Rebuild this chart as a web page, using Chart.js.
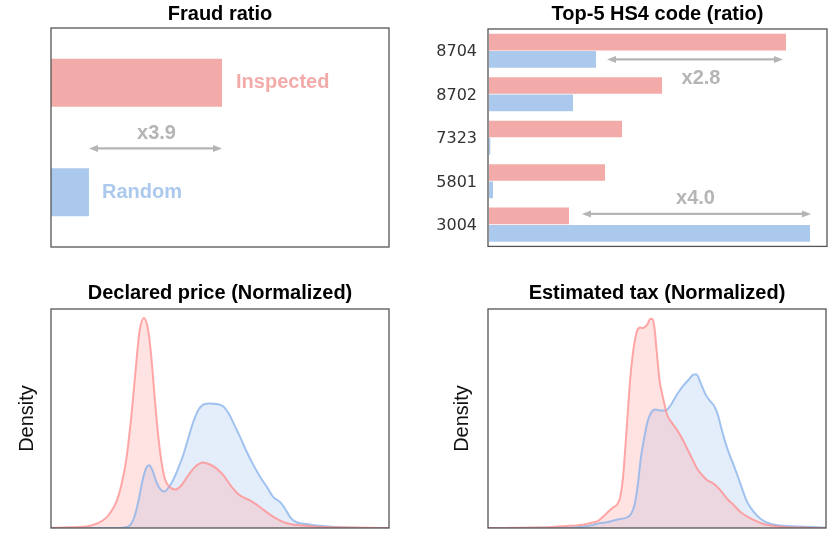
<!DOCTYPE html>
<html>
<head>
<meta charset="utf-8">
<script src="https://cdn.jsdelivr.net/npm/chart.js@4/dist/chart.umd.min.js"></script>
<style>
  html, body { margin: 0; padding: 0; background: #fff; }
  #wrap { position: relative; width: 830px; height: 534px; }
  .panel { position: absolute; width: 415px; height: 267px; }
</style>
</head>
<body>
<div id="wrap">
  <div class="panel" style="left:0;top:0"><canvas id="c-fraud" width="415" height="267"></canvas></div>
  <div class="panel" style="left:415px;top:0"><canvas id="c-hs4" width="415" height="267"></canvas></div>
  <div class="panel" style="left:0;top:267px"><canvas id="c-price" width="415" height="267"></canvas></div>
  <div class="panel" style="left:415px;top:267px"><canvas id="c-tax" width="415" height="267"></canvas></div>
</div>
<script>
// ─── Data ───

const fraudLabels = ['Inspected', 'Random'];
const fraudValues = [39, 10];            // fraud ratio (%)

const hs4Codes = ['8704', '8702', '7323', '5801', '3004'];
const hs4Inspected = [0.297, 0.173, 0.133, 0.116, 0.080];
const hs4Random = [0.107, 0.084, 0.0013, 0.004, 0.321];

// declared price (normalized), density
const priceInspX = [0, 5.4, 9.4, 12.4, 15.3, 17.3, 19.3, 20.8, 22.3, 23.8, 25.0, 26.2, 27.5, 28.7, 29.7, 30.7, 31.7, 32.7, 33.7, 35.1, 36.9, 38.6, 40.6, 42.6, 44.9, 47.0, 49.0, 51.0, 53.5, 55.9, 58.9, 61.9, 64.9, 67.8, 70.8, 74.8, 78.7, 84.7, 93.6, 100];
const priceInspY = [0, 0.3, 0.6, 1.4, 3.4, 6.4, 11.8, 19.5, 31.7, 51.7, 71.6, 90.0, 95.9, 90.8, 77.8, 59.4, 42.5, 30.2, 22.5, 18.7, 17.6, 19.5, 24.1, 27.9, 29.9, 29.0, 27.1, 24.1, 18.7, 14.9, 12.6, 9.5, 6.0, 3.4, 1.8, 1.1, 0.6, 0.3, 0.15, 0];
const priceRandX = [0, 19.3, 21.3, 23.3, 24.8, 26.0, 27.2, 28.2, 29.0, 30.0, 31.2, 32.4, 33.5, 34.7, 36.1, 37.6, 39.1, 40.6, 42.1, 43.6, 45.0, 47.0, 49.0, 51.0, 52.5, 54.0, 55.9, 57.9, 59.9, 61.9, 63.9, 65.8, 67.8, 69.3, 70.8, 72.8, 75.7, 78.7, 83.7, 88.6, 100];
const priceRandY = [0, 0, 0.15, 1.1, 5.7, 13.3, 22.5, 27.5, 28.7, 26.4, 21.0, 17.6, 16.7, 18.3, 21.8, 27.1, 33.2, 40.9, 48.5, 53.9, 56.3, 56.9, 56.6, 55.5, 52.5, 47.9, 41.7, 34.8, 28.7, 23.3, 18.7, 14.1, 11.8, 8.7, 4.9, 2.5, 1.8, 1.1, 0.5, 0.15, 0];

// estimated tax (normalized), density
const taxInspX = [0, 14.4, 19.3, 23.3, 26.2, 29.2, 31.2, 32.7, 34.2, 35.6, 37.1, 38.3, 39.1, 39.9, 40.6, 41.3, 42.1, 43.1, 44.1, 45.0, 45.8, 46.5, 47.2, 48.0, 48.7, 49.3, 50.0, 50.8, 51.8, 53.0, 54.5, 55.9, 57.4, 58.9, 60.4, 61.9, 63.4, 64.9, 66.8, 68.8, 70.8, 72.8, 74.8, 77.7, 80.7, 83.7, 88.6, 100];
const taxInspY = [0, 0.2, 0.5, 0.9, 1.2, 1.8, 2.6, 3.4, 5.4, 7.5, 9.5, 11.0, 14.1, 22.5, 36.3, 51.7, 68.6, 82.4, 90.0, 91.6, 91.3, 91.9, 93.1, 95.6, 95.4, 90.8, 79.3, 67.0, 59.4, 51.7, 47.9, 44.8, 41.0, 36.3, 31.7, 27.1, 24.1, 21.8, 20.2, 17.2, 13.3, 10.3, 7.2, 4.4, 2.3, 1.1, 0.3, 0];
const taxRandX = [0, 24.3, 29.2, 31.2, 33.2, 35.1, 37.1, 39.1, 41.1, 42.3, 43.3, 44.3, 45.2, 46.2, 47.2, 48.2, 49.5, 51.0, 52.5, 53.8, 55.0, 56.4, 57.9, 59.4, 60.9, 61.7, 62.9, 64.4, 65.8, 67.0, 68.0, 69.3, 70.8, 72.3, 73.8, 75.2, 76.7, 78.7, 80.7, 83.7, 88.6, 93.6, 100];
const taxRandY = [0, 0.15, 0.8, 1.5, 2.3, 2.6, 3.4, 4.1, 4.9, 6.4, 10.3, 19.5, 31.7, 41.0, 48.6, 52.5, 54.1, 53.6, 53.6, 55.5, 58.6, 62.1, 65.2, 67.8, 70.1, 70.1, 66.3, 60.9, 57.8, 55.5, 51.7, 44.0, 36.3, 30.2, 24.1, 17.9, 11.8, 7.2, 4.1, 1.8, 0.9, 0.6, 0.15];

// ─── Styles ───

const FONT = "'Liberation Sans', Arial, Helvetica, sans-serif";
const TICK_FONT = "'DejaVu Sans', sans-serif";
const RED_BAR = '#f3aba9';
const BLUE_BAR = '#abc9ec';
const RED_LINE = 'rgba(255,140,140,0.75)';
const RED_FILL = 'rgba(255,150,150,0.28)';
const BLUE_LINE = 'rgba(140,180,235,0.8)';
const BLUE_FILL = 'rgba(150,190,235,0.26)';
const ANNOT = '#b5b5b5';

const framePlugin = {
  id: 'frame',
  afterDraw(chart) {
    const { ctx, chartArea: a } = chart;
    ctx.save();
    ctx.strokeStyle = '#555';
    ctx.lineWidth = 1.3;
    ctx.strokeRect(a.left, a.top, a.right - a.left, a.bottom - a.top);
    ctx.restore();
  }
};

function drawArrow(ctx, x1, x2, y) {
  const head = 9, half = 3.5;
  ctx.save();
  ctx.strokeStyle = ANNOT;
  ctx.fillStyle = ANNOT;
  ctx.lineWidth = 2.2;
  ctx.beginPath();
  ctx.moveTo(x1 + head - 1, y);
  ctx.lineTo(x2 - head + 1, y);
  ctx.stroke();
  ctx.beginPath();
  ctx.moveTo(x1, y); ctx.lineTo(x1 + head, y - half); ctx.lineTo(x1 + head, y + half); ctx.closePath();
  ctx.fill();
  ctx.beginPath();
  ctx.moveTo(x2, y); ctx.lineTo(x2 - head, y - half); ctx.lineTo(x2 - head, y + half); ctx.closePath();
  ctx.fill();
  ctx.restore();
}

function drawText(ctx, text, x, y, color, align) {
  ctx.save();
  ctx.font = `bold 20px ${FONT}`;
  ctx.fillStyle = color;
  ctx.textAlign = align || 'center';
  ctx.textBaseline = 'middle';
  ctx.fillText(text, x, y);
  ctx.restore();
}

function titleOpts(text, top, bottom) {
  return {
    display: true, text, color: '#000', fullSize: false,
    font: { family: FONT, size: 20, weight: 'bold' },
    padding: { top, bottom }
  };
}

// ─── Fraud ratio ───

new Chart(document.getElementById('c-fraud'), {
  type: 'bar',
  data: {
    labels: fraudLabels,
    datasets: [{ data: fraudValues, backgroundColor: [RED_BAR, BLUE_BAR], barPercentage: 0.88, categoryPercentage: 0.5 }]
  },
  options: {
    indexAxis: 'y', responsive: false, animation: false,
    layout: { padding: { left: 51, right: 26, top: 0, bottom: 20 } },
    scales: {
      x: { display: false, min: 1.72, max: 75.4 },
      y: { display: false }
    },
    plugins: { legend: { display: false }, tooltip: { enabled: false }, title: titleOpts('Fraud ratio', 2, 2) }
  },
  plugins: [framePlugin, {
    id: 'fraudNotes',
    afterDatasetsDraw(chart) {
      const { ctx, scales: { x, y } } = chart;
      const xi = x.getPixelForValue(fraudValues[0]);
      const xr = x.getPixelForValue(fraudValues[1]);
      drawText(ctx, fraudLabels[0], xi + 14, y.getPixelForValue(0), RED_BAR, 'left');
      drawText(ctx, fraudLabels[1], xr + 13, y.getPixelForValue(1), BLUE_BAR, 'left');
      drawArrow(ctx, xr, xi, y.getPixelForValue(0.6));
      drawText(ctx, 'x' + (fraudValues[0] / fraudValues[1]).toFixed(1), (xi + xr) / 2 + 1, y.getPixelForValue(0.46), ANNOT);
    }
  }]
});

// ─── Top-5 HS4 ───

new Chart(document.getElementById('c-hs4'), {
  type: 'bar',
  data: {
    labels: hs4Codes,
    datasets: [
      { label: 'Inspected', data: hs4Inspected, backgroundColor: RED_BAR, barPercentage: 0.96, categoryPercentage: 0.8 },
      { label: 'Random', data: hs4Random, backgroundColor: BLUE_BAR, barPercentage: 0.96, categoryPercentage: 0.8 }
    ]
  },
  options: {
    indexAxis: 'y', responsive: false, animation: false,
    layout: { padding: { left: 0, right: 3, top: 0, bottom: 20 } },
    scales: {
      x: { display: false, min: -0.001, max: 0.338 },
      y: {
        grid: { display: false, drawTicks: false },
        border: { display: false },
        ticks: { color: '#333', padding: 11, labelOffset: 1.5, font: { family: TICK_FONT, size: 16 } },
        afterFit(scale) { scale.width = 73; }
      }
    },
    plugins: { legend: { display: false }, tooltip: { enabled: false }, title: titleOpts('Top-5 HS4 code (ratio)', 2, 3) }
  },
  plugins: [framePlugin, {
    id: 'hs4Notes',
    afterDatasetsDraw(chart) {
      const { ctx, scales: { x, y } } = chart;
      const red = chart.getDatasetMeta(0).data;
      const blue = chart.getDatasetMeta(1).data;
      const first = 0, last = hs4Codes.length - 1;

      const a1 = red[first].x, b1 = blue[first].x;
      drawArrow(ctx, b1 + 11, a1 - 3, blue[first].y);
      drawText(ctx, 'x' + (hs4Inspected[first] / hs4Random[first]).toFixed(1), (a1 + b1) / 2 + 10, y.getPixelForValue(0.64), ANNOT);

      const a2 = red[last].x, b2 = blue[last].x;
      drawArrow(ctx, a2 + 13, b2 + 1, red[last].y - 2);
      drawText(ctx, 'x' + (hs4Random[last] / hs4Inspected[last]).toFixed(1), (a2 + b2) / 2 + 6, y.getPixelForValue(3.39), ANNOT);
    }
  }]
});

// ─── Density plots ───

function toPoints(xs, ys) {
  return xs.map((x, i) => ({ x, y: ys[i] }));
}

function densityChart(id, title, insp, rand, padLeft, axisWidth, padRight) {
  const line = (pts, border, fill) => ({
    data: pts, borderColor: border, backgroundColor: fill, fill: 'origin',
    borderWidth: 2, pointRadius: 0, cubicInterpolationMode: 'monotone'
  });
  return new Chart(document.getElementById(id), {
    type: 'line',
    data: { datasets: [line(insp, RED_LINE, RED_FILL), line(rand, BLUE_LINE, BLUE_FILL)] },
    options: {
      responsive: false, animation: false,
      layout: { padding: { left: padLeft, right: padRight, top: 0, bottom: 6 } },
      scales: {
        x: { type: 'linear', display: false, min: 0, max: 100 },
        y: {
          min: 0, max: 100,
          grid: { display: false, drawTicks: false },
          border: { display: false },
          ticks: { display: false },
          title: { display: true, text: 'Density', color: '#111', padding: 0, font: { family: FONT, size: 20 } },
          afterFit(scale) { scale.width = axisWidth; }
        }
      },
      plugins: {
        legend: { display: false }, tooltip: { enabled: false },
        filler: { drawTime: 'beforeDatasetsDraw' },
        title: titleOpts(title, 14, 4)
      }
    },
    plugins: [framePlugin]
  });
}

densityChart('c-price', 'Declared price (Normalized)',
  toPoints(priceInspX, priceInspY), toPoints(priceRandX, priceRandY), 15, 36, 26);
densityChart('c-tax', 'Estimated tax (Normalized)',
  toPoints(taxInspX, taxInspY), toPoints(taxRandX, taxRandY), 35, 38, 4);
</script>
</body>
</html>
